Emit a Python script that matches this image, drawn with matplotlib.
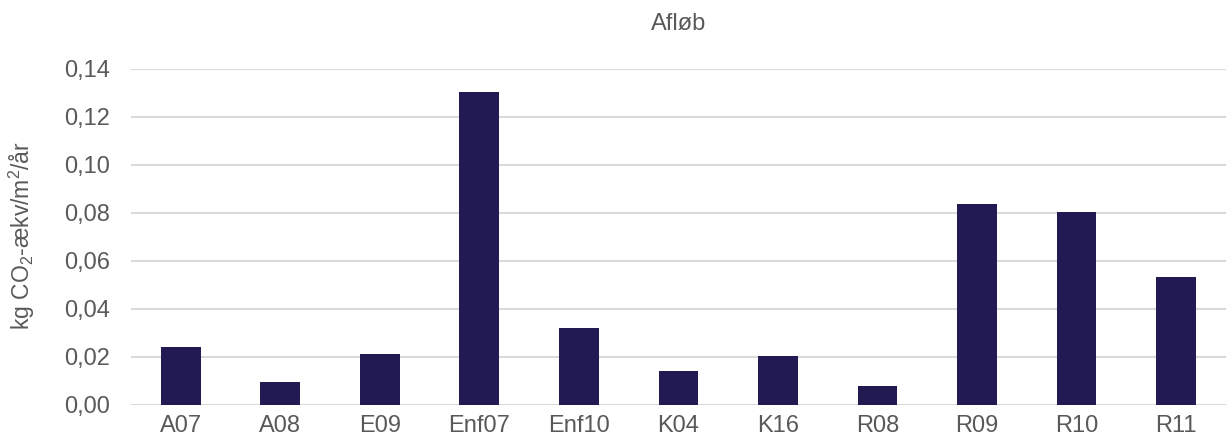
import matplotlib
matplotlib.use("Agg")
import matplotlib.pyplot as plt
from matplotlib.ticker import FuncFormatter, MultipleLocator

# Data
categories = ['A07', 'A08', 'E09', 'Enf07', 'Enf10', 'K04', 'K16', 'R08', 'R09', 'R10', 'R11']
values = [0.0240, 0.0097, 0.0211, 0.1305, 0.0322, 0.0143, 0.0204, 0.0079, 0.0836, 0.0804, 0.0532]

plt.rcParams['font.family'] = ['Liberation Sans', 'DejaVu Sans']
plt.rcParams['mathtext.fontset'] = 'custom'
plt.rcParams['mathtext.rm'] = 'Liberation Sans'
plt.rcParams['mathtext.it'] = 'Liberation Sans:italic'
plt.rcParams['mathtext.bf'] = 'Liberation Sans:bold'

text_color = '#595959'
bar_color = '#221A52'
grid_color = '#D9D9D9'

fig = plt.figure(figsize=(12.28, 4.45), dpi=100)
ax = fig.add_axes([0.1067, 0.0899, 0.8915, 0.7551])

ax.bar(categories, values, width=0.4, color=bar_color, zorder=3)

ax.set_ylim(0, 0.14)
ax.set_xlim(-0.5, len(categories) - 0.5)
ax.yaxis.set_major_locator(MultipleLocator(0.02))
ax.yaxis.set_major_formatter(FuncFormatter(lambda v, p: f"{v:.2f}".replace('.', ',')))
ax.grid(axis='y', color=grid_color, linewidth=1.5, zorder=0)
ax.set_axisbelow(True)

for s in ax.spines.values():
    s.set_visible(False)
ax.tick_params(axis='both', length=0, labelsize=17, colors=text_color)
ax.tick_params(axis='y', pad=15)
ax.tick_params(axis='x', pad=7)

# y label placed by hand so its centre sits where the original has it
fig.text(22 / 1228, 0.47, 'kg CO$_\\mathregular{2}$-ækv/m$^\\mathregular{2}$/år', rotation=90,
         ha='center', va='center', fontsize=16.5, color=text_color)
fig.text(0.5 * (0.1067 + 0.998), 0.947, 'Afløb', ha='center', va='center',
         fontsize=17, color=text_color)

fig.savefig('out.png', dpi=100, facecolor='white')
